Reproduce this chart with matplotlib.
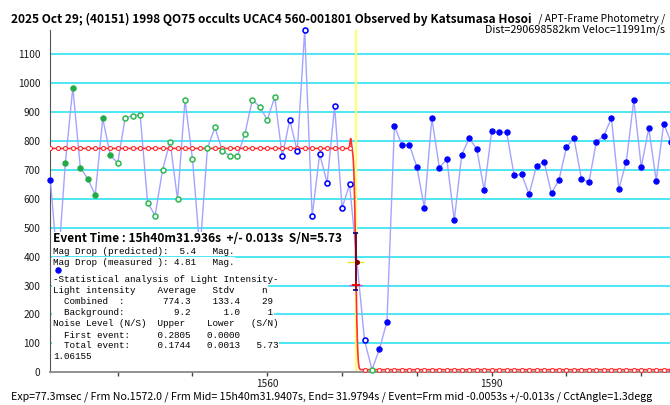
import numpy as np
import matplotlib
matplotlib.use('Agg')
import matplotlib.pyplot as plt
from math import erfc

# ---------------- data ----------------
frames = list(range(1531, 1615))
values = [665, 355, 724, 985, 708, 669, 614, 878, 752, 723,
          881, 887, 891, 587, 542, 700, 798, 598, 942, 737,
          420, 776, 847, 765, 749, 747, 824, 943, 918, 873,
          953, 747, 873, 765, 1183, 540, 755, 655, 921, 569,
          650, 380, 110, 9, 81, 175, 852, 786, 786, 710,
          569, 879, 708, 737, 526, 753, 810, 772, 630, 833,
          830, 830, 681, 685, 616, 714, 728, 619, 666, 779,
          810, 669, 657, 798, 818, 879, 634, 729, 942, 710,
          844, 663, 860, 795]
# marker kinds: bf blue filled, bo blue open, gf green filled, go green open, ev event point
kinds = (['bf'] * 2 + ['gf'] * 7 + ['go'] * 22 + ['bo'] * 10 +
         ['ev'] + ['bo'] + ['go'] + ['bf'] * 40)

upper_level = 774.3
lower_level = 9.2
event_frame = 1571.82
event_err_low, event_err_high = 284, 482
event_model_value = 301
event_point_value = 380

ytick_vals = list(range(0, 1200, 100))
xtick_vals = list(range(1540, 1620, 10))
xtick_labels = ['', '', '1560', '', '', '1590', '', '']

title_bold = "2025 Oct 29; (40151) 1998 QO75 occults UCAC4 560-001801 Observed by Katsumasa Hosoi"
title_norm = " / APT-Frame Photometry /"
dist_text = "Dist=290698582km Veloc=11991m/s"
footer = ("Exp=77.3msec / Frm No.1572.0 / Frm Mid= 15h40m31.9407s, End= 31.9794s / "
          "Event=Frm mid -0.0053s +/-0.013s / CctAngle=1.3degg")
event_line = "Event Time : 15h40m31.936s  +/- 0.013s  S/N=5.73"
box_lines = [
    "Mag Drop (predicted):  5.4   Mag.",
    "Mag Drop (measured ): 4.81   Mag.",
    "-Statistical analysis of Light Intensity-",
    "Light intensity    Average   Stdv     n",
    "  Combined  :       774.3    133.4    29",
    "  Background:         9.2      1.0     1",
    "Noise Level (N/S)  Upper    Lower   (S/N)",
    "  First event:     0.2805   0.0000",
    "  Total event:     0.1744   0.0013   5.73",
    "1.06155",
]
box_y = [251, 262.3, 279.3, 290.3, 301, 312.3, 323.7, 335, 346, 356.7]

# ---------------- figure ----------------
W, H = 670, 405
fig = plt.figure(figsize=(W / 100, H / 100), dpi=100)
ax = fig.add_axes([50 / W, (H - 372.3) / H, (670 - 50) / W, (372.3 - 30) / H])
ax.set_xlim(1530.95, 1613.84)
ax.set_ylim(0, 1184)

sans = ['Noto Sans CJK JP', 'DejaVu Sans']
mono = ['Liberation Mono', 'DejaVu Sans Mono']

for s in ['top', 'right']:
    ax.spines[s].set_visible(False)
ax.spines['left'].set_color('#555555')
ax.spines['left'].set_linewidth(0.8)
ax.spines['bottom'].set_color('#888888')
ax.spines['bottom'].set_linewidth(1.3)

ax.set_yticks(ytick_vals)
ax.set_yticklabels([str(v) for v in ytick_vals])
ax.set_xticks(xtick_vals)
ax.set_xticklabels(xtick_labels)
ax.tick_params(axis='y', length=0, pad=7)
ax.tick_params(axis='x', length=3, width=1, color='#444444', pad=2)
for lab in ax.get_yticklabels() + ax.get_xticklabels():
    lab.set_family(sans)
    lab.set_fontsize(7.3)
    lab.set_color('#1a1a1a')

for v in ytick_vals[1:]:
    ax.axhline(v, color='#3ee4f2', lw=1.3, zorder=1)

ax.axvline(event_frame, color='#ffff70', lw=1.6, zorder=1.5)

# data line
ax.plot(frames, values, color='#a4a4ff', lw=1.0, zorder=3)

# model fit
xf = np.linspace(frames[0], frames[-1], 3000)
fit = np.array([lower_level + (upper_level - lower_level) * 0.5 * erfc((x - event_frame) / 0.28)
                for x in xf])
fit += 35 * np.exp(-((xf - 1571.15) / 0.13) ** 2)
ax.plot(xf, fit, color='#ff3030', lw=1.2, zorder=4)
fu = [f for f in frames if f < event_frame - 0.5]
fl = [f for f in frames if f > event_frame + 1.0]
mk = dict(ls='none', marker='o', ms=2.9, mfc='white', mec='#ff3030', mew=0.8, zorder=4.5)
ax.plot(fu, [upper_level] * len(fu), **mk)
ax.plot(fl, [lower_level] * len(fl), **mk)

# event markers
ax.hlines(event_point_value, event_frame - 1.15, event_frame + 1.15, color='#e8e820', lw=1.0, zorder=5)
ax.hlines(event_model_value, event_frame - 0.85, event_frame + 0.85, color='#e040e0', lw=1.0, zorder=5)
ax.vlines(event_frame, event_err_low, event_err_high, color='#600030', lw=1.3, zorder=6)
ax.hlines([event_err_low, event_err_high], event_frame - 0.3, event_frame + 0.3, color='#000080', lw=1.2, zorder=6)
ax.plot([event_frame], [event_model_value], ls='none', marker='+', ms=6, mew=1.3, color='#dd0000', zorder=7)

styles = {
    'bf': dict(mfc='#0000ff', mec='#0000ff', ms=3.8, mew=0.8),
    'bo': dict(mfc='white', mec='#0000ff', ms=3.6, mew=1.15),
    'gf': dict(mfc='#22aa44', mec='#22aa44', ms=3.8, mew=0.8),
    'go': dict(mfc='white', mec='#33bb55', ms=3.6, mew=1.15),
    'ev': dict(mfc='#800000', mec='#800000', ms=2.8, mew=0.8),
}
for k, st in styles.items():
    xs = [f for f, kk in zip(frames, kinds) if kk == k]
    ys = [v for v, kk in zip(values, kinds) if kk == k]
    ax.plot(xs, ys, ls='none', marker='o', zorder=8, clip_on=False, **st)

# ---------------- texts ----------------
renderer = fig.canvas.get_renderer()


def ftext(x, y, s, width=None, ha='left', **kw):
    t = fig.text(x / W, 1 - y / H, s, ha=ha, va='center', **kw)
    if width:
        for _ in range(3):
            w = t.get_window_extent(renderer=renderer).width
            t.set_fontsize(t.get_fontsize() * width / w)
    return t


ftext(11, 19, title_bold, width=520, family=sans, weight='bold', fontsize=9, color='black')
ftext(536, 19, title_norm, width=129, family=sans, fontsize=9, color='black')
ftext(665, 30, dist_text, width=180, ha='right', family=sans, fontsize=8, color='black')
ftext(11, 396.7, footer, width=641.7, family=sans, fontsize=8, color='black')

bb = dict(facecolor='white', edgecolor='none', pad=0.4)
ftext(53, 239, event_line, width=290, family=sans, weight='bold', fontsize=9,
      color='black', bbox=dict(facecolor='white', edgecolor='none', pad=0.6), zorder=20)

ref = ftext(53, box_y[2], box_lines[2], width=228.4, family=mono, fontsize=7, color='black',
            bbox=bb, zorder=20)
fs = ref.get_fontsize()
for i, (s, y) in enumerate(zip(box_lines, box_y)):
    if i == 2:
        continue
    ftext(53, y, s, family=mono, fontsize=fs, color='black', bbox=bb, zorder=20)

fig.savefig('out.png', dpi=100)
